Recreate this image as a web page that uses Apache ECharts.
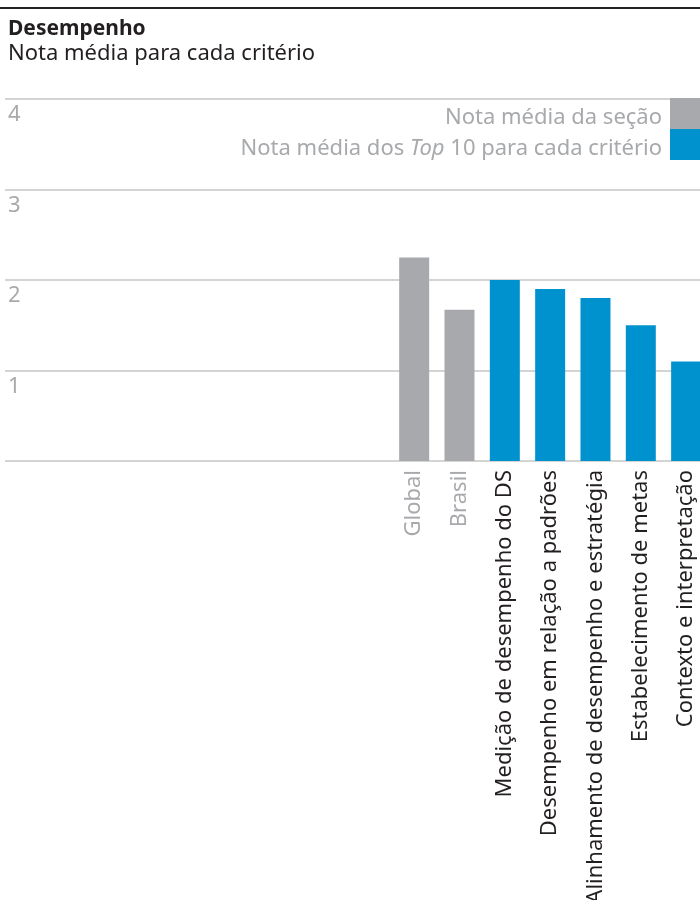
<!DOCTYPE html>
<html>
<head>
<meta charset="utf-8">
<script src="https://cdn.jsdelivr.net/npm/echarts@6/dist/echarts.min.js"></script>
<style>
  html, body { margin: 0; padding: 0; background: #fff; }
  #chart { width: 700px; height: 900px; }
</style>
</head>
<body>
<div id="chart"></div>
<script>
// Average scores: section references (grey) and Top 10 per criterion (blue)
const categories = [
  'Global',
  'Brasil',
  'Medição de desempenho do DS',
  'Desempenho em relação a padrões',
  'Alinhamento de desempenho e estratégia',
  'Estabelecimento de metas',
  'Contexto e interpretação'
];
const sectionAverage = [2.25, 1.67, null, null, null, null, null];
const top10Average   = [null, null, 2.0, 1.9, 1.8, 1.5, 1.1];
const yTicks = [0, 1, 2, 3, 4];

const seriesNames = ['Nota média da seção', 'Nota média dos Top 10 para cada critério'];

const FONT = '"Noto Sans", sans-serif';
const GREY_TEXT = '#a7a9ac';
const GREY_BAR = '#a7a9ac';
const BLUE_BAR = '#0092cf';
const GRID_LINE = '#d4d4d4';
const DARK_TEXT = '#231f20';

const chart = echarts.init(document.getElementById('chart'), null, { renderer: 'canvas' });

const plotTop = 99;
const plotBottom = 900 - 461;

chart.setOption({
  animation: false,
  backgroundColor: '#ffffff',
  textStyle: { fontFamily: FONT },
  graphic: [
    { type: 'rect', shape: { x: 0, y: 7, width: 700, height: 2 }, style: { fill: '#222' } },
    { type: 'text', left: 8, top: 19, style: { text: 'Desempenho', font: 'bold 21px ' + FONT, fill: DARK_TEXT } },
    { type: 'text', left: 8, top: 43, style: { text: 'Nota média para cada critério', font: '22px ' + FONT, fill: DARK_TEXT } }
  ],
  legend: {
    orient: 'vertical',
    right: 0,
    top: plotTop - 1,
    padding: 0,
    align: 'right',
    itemWidth: 30,
    itemHeight: 31,
    itemGap: 0,
    icon: 'rect',
    data: seriesNames,
    formatter: function (name) {
      if (name === seriesNames[1]) {
        return '{n|Nota média dos }{i|Top}{n| 10 para cada critério}';
      }
      return '{n|' + name + '}';
    },
    textStyle: {
      padding: [8, 3, 0, 0],
      rich: {
        n: { fontFamily: FONT, fontSize: 22, color: GREY_TEXT },
        i: { fontFamily: FONT, fontSize: 22, color: GREY_TEXT, fontStyle: 'italic' }
      }
    }
  },
  grid: [
    { left: 5, right: 0, top: plotTop, bottom: plotBottom, outerBoundsMode: 'none' },
    { left: 391.5, width: 317.3, top: plotTop, bottom: plotBottom, outerBoundsMode: 'none' }
  ],
  xAxis: [
    {
      gridIndex: 0, type: 'category', data: [''],
      axisLine: { show: false }, axisTick: { show: false }, axisLabel: { show: false }
    },
    {
      gridIndex: 1, type: 'category',
      data: categories.map(function (c, i) {
        return { value: c, textStyle: { color: i < 2 ? GREY_TEXT : DARK_TEXT } };
      }),
      axisLine: { show: false }, axisTick: { show: false },
      axisLabel: { rotate: 90, margin: 9, fontSize: 22, fontFamily: FONT, interval: 0 }
    }
  ],
  yAxis: [
    {
      gridIndex: 0, type: 'value', min: yTicks[0], max: yTicks[yTicks.length - 1], interval: 1,
      axisLine: { show: false }, axisTick: { show: false },
      splitLine: { show: true, lineStyle: { color: GRID_LINE, width: 2 } },
      axisLabel: {
        inside: true, margin: 3, verticalAlign: 'top', padding: [5, 0, 0, 0],
        fontSize: 22, color: GREY_TEXT, fontFamily: FONT,
        formatter: function (v) { return v === 0 ? '' : String(v); }
      }
    },
    {
      gridIndex: 1, type: 'value', min: yTicks[0], max: yTicks[yTicks.length - 1], interval: 1,
      show: false
    }
  ],
  series: [
    {
      name: seriesNames[0], type: 'bar', xAxisIndex: 1, yAxisIndex: 1,
      data: sectionAverage, barWidth: 30, barGap: '-100%',
      itemStyle: { color: GREY_BAR }
    },
    {
      name: seriesNames[1], type: 'bar', xAxisIndex: 1, yAxisIndex: 1,
      data: top10Average, barWidth: 30, barGap: '-100%',
      itemStyle: { color: BLUE_BAR }
    }
  ]
});
</script>
</body>
</html>
